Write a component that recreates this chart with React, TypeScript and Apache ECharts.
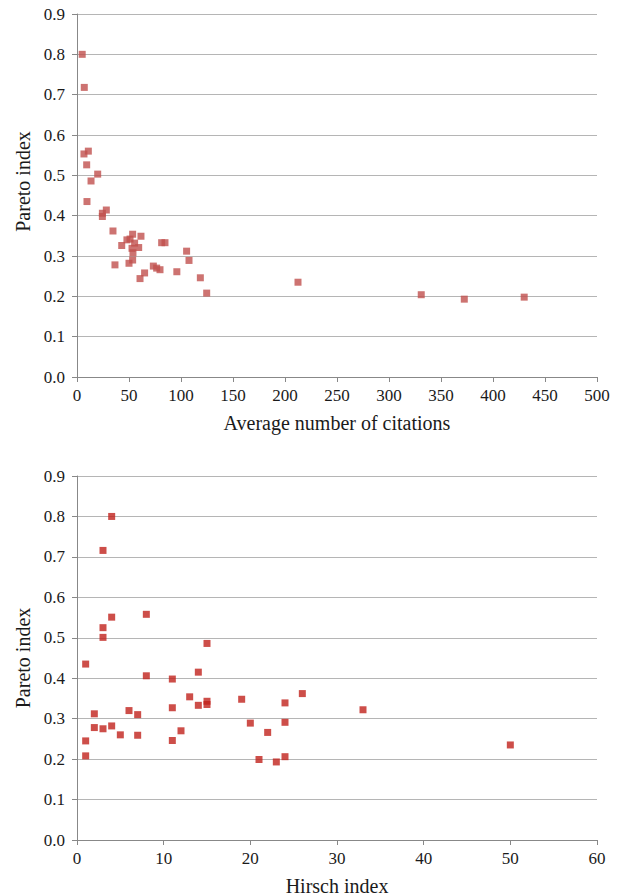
import React, { useEffect, useRef } from "react";
import * as echarts from "echarts";

const avgCitations = [5, 7, 6.7, 10.9, 9.3, 19.9, 13.5, 9.6, 24.4, 24.4, 28.2, 34.6, 36.5, 43, 48, 51, 53.5, 55.4, 52.9, 53.8, 59.3, 61.5, 53.5, 50, 60.6, 65, 73.4, 76.6, 79.8, 81.4, 84.6, 96, 105.4, 107.7, 118.6, 124.7, 212.5, 331, 372.4, 430];
const paretoTop = [0.8, 0.718, 0.553, 0.56, 0.526, 0.503, 0.486, 0.435, 0.406, 0.398, 0.414, 0.362, 0.278, 0.326, 0.34, 0.342, 0.354, 0.332, 0.319, 0.308, 0.321, 0.349, 0.29, 0.282, 0.244, 0.258, 0.275, 0.27, 0.266, 0.333, 0.333, 0.261, 0.312, 0.289, 0.246, 0.208, 0.235, 0.204, 0.193, 0.198];

const hirsch = [4, 3, 4, 3, 3, 8, 15, 1, 8, 11, 14, 2, 2, 3, 4, 5, 6, 7, 7, 1, 1, 11, 11, 12, 13, 14, 15, 15, 19, 20, 21, 22, 23, 24, 24, 24, 26, 33, 50];
const paretoBottom = [0.8, 0.716, 0.551, 0.525, 0.501, 0.558, 0.486, 0.435, 0.406, 0.398, 0.415, 0.312, 0.278, 0.275, 0.282, 0.26, 0.32, 0.31, 0.259, 0.245, 0.208, 0.327, 0.246, 0.27, 0.354, 0.333, 0.343, 0.335, 0.348, 0.289, 0.199, 0.266, 0.193, 0.339, 0.291, 0.206, 0.362, 0.322, 0.235];

const topXTitle = "Average number of citations";
const bottomXTitle = "Hirsch index";
const yTitle = "Pareto index";

const FONT = "'Liberation Serif', 'Times New Roman', Times, 'DejaVu Serif', serif";

function yAxisCfg(gridIndex: number, namePad: number[]) {
  return {
    type: "value",
    gridIndex,
    min: 0,
    max: 0.9,
    interval: 0.1,
    name: yTitle,
    nameLocation: "middle",
    nameGap: 42,
    nameRotate: 90,
    nameTextStyle: { fontFamily: FONT, fontSize: 20, color: "#1a1a1a", padding: namePad },
    axisLine: { show: true, lineStyle: { color: "#888888", width: 1 } },
    axisTick: { show: true, length: 5, inside: false, lineStyle: { color: "#888888" } },
    axisLabel: {
      fontFamily: FONT,
      fontSize: 17,
      color: "#1a1a1a",
      margin: 12,
      formatter: (v: number) => v.toFixed(1),
    },
    splitLine: { show: true, lineStyle: { color: "#b5b5b5", width: 1 } },
  };
}

function xAxisCfg(gridIndex: number, max: number, interval: number, name: string) {
  return {
    type: "value",
    gridIndex,
    min: 0,
    max,
    interval,
    name,
    nameLocation: "middle",
    nameGap: 36,
    nameTextStyle: { fontFamily: FONT, fontSize: 20, color: "#1a1a1a" },
    axisLine: { show: true, lineStyle: { color: "#888888", width: 1 } },
    axisTick: { show: true, length: 5, inside: false, lineStyle: { color: "#888888" } },
    axisLabel: { fontFamily: FONT, fontSize: 17, color: "#1a1a1a", margin: 10 },
    splitLine: { show: false },
  };
}

export default function App() {
  const ref = useRef<HTMLDivElement>(null);
  useEffect(() => {
    document.body.style.margin = "0";
    document.body.style.overflow = "hidden";
    if (!ref.current) return;
    const chart = echarts.init(ref.current, undefined, { renderer: "svg" });
    const topData = avgCitations.map((x, i) => [x, paretoTop[i]]);
    const bottomData = hirsch.map((x, i) => [x, paretoBottom[i]]);
    chart.setOption({
      animation: false,
      backgroundColor: "#ffffff",
      textStyle: { fontFamily: FONT },
      grid: [
        { left: 77, top: 14, width: 520, height: 363, outerBoundsMode: "none", containLabel: false },
        { left: 77, top: 476, width: 520, height: 364, outerBoundsMode: "none", containLabel: false },
      ],
      xAxis: [
        xAxisCfg(0, 500, 50, topXTitle),
        xAxisCfg(1, 60, 10, bottomXTitle),
      ],
      yAxis: [yAxisCfg(0, [0, 0, 0, 28]), yAxisCfg(1, [0, 0, 0, 0])],
      series: [
        {
          type: "scatter",
          xAxisIndex: 0,
          yAxisIndex: 0,
          symbol: "rect",
          symbolSize: 7,
          itemStyle: { color: "#c0504d" },
          data: topData,
        },
        {
          type: "scatter",
          xAxisIndex: 1,
          yAxisIndex: 1,
          symbol: "rect",
          symbolSize: 7,
          itemStyle: { color: "#c0221c" },
          data: bottomData,
        },
      ],
    });
    return () => chart.dispose();
  }, []);
  return (
    <div
      ref={ref}
      style={{ position: "fixed", left: 0, top: 0, width: 620, height: 896 }}
    />
  );
}
